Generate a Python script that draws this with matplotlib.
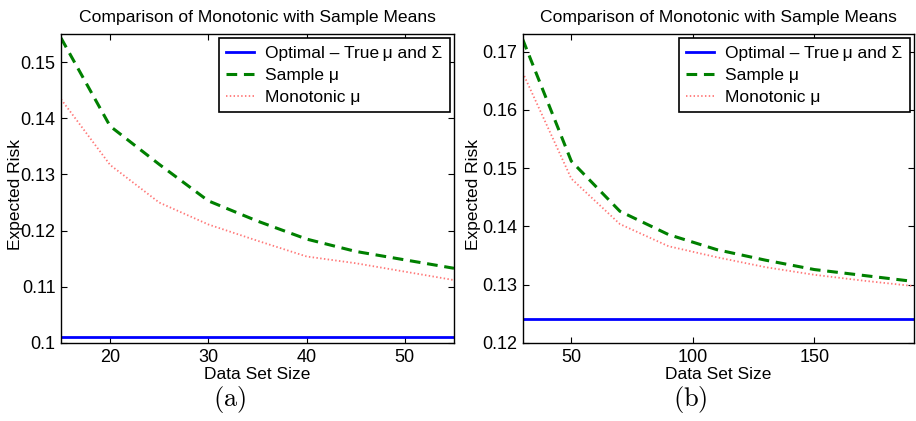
import matplotlib
matplotlib.use("Agg")
import matplotlib.pyplot as plt

plt.rcParams['font.family'] = ['Liberation Sans', 'DejaVu Sans']
plt.rcParams['mathtext.fontset'] = 'cm'

# Panel (a)
size_a = [15, 20, 25, 30, 35, 40, 45, 50, 55]
sample_a = [0.1543, 0.1386, 0.1318, 0.1253, 0.1217, 0.1185, 0.1163, 0.1148, 0.1133]
mono_a = [0.1434, 0.1317, 0.1250, 0.1211, 0.1182, 0.1154, 0.1142, 0.1127, 0.1112]
opt_a = 0.1010

# Panel (b)
size_b = [30, 50, 70, 90, 110, 130, 150, 170, 190]
sample_b = [0.1721, 0.1512, 0.1426, 0.1386, 0.1360, 0.1342, 0.1326, 0.1316, 0.1306]
mono_b = [0.1664, 0.1482, 0.1404, 0.1366, 0.1347, 0.1330, 0.1317, 0.1307, 0.1298]
opt_b = 0.1242

labels = ['Optimal \u2013 True\u2009\u03bc and \u03a3', 'Sample \u03bc', 'Monotonic \u03bc']

fig = plt.figure(figsize=(9.16, 4.21), dpi=100)

def panel(rect, xs, samp, mono, opt, xlim, ylim, xticks, yticks, ylabx, cap, capx):
    ax = fig.add_axes(rect)
    ax.plot([xlim[0], xlim[1]], [opt, opt], color='#0000ff', lw=2.0, label=labels[0])
    ax.plot(xs, samp, color='#008000', lw=2.2, ls=(0, (3.5, 2.2)), label=labels[1])
    ax.plot(xs, mono, color='#ff7878', lw=1.3, ls=(0, (0.8, 1.3)), label=labels[2])
    ax.set_xlim(*xlim)
    ax.set_ylim(*ylim)
    ax.set_xticks(xticks)
    ax.set_yticks(yticks)
    ax.set_yticklabels([('%g' % v) for v in yticks])
    ax.tick_params(direction='in', top=True, right=True, labelsize=13, length=4, width=0.8, pad=4)
    for s in ax.spines.values():
        s.set_linewidth(1.0)
    ax.set_title('Comparison of Monotonic with Sample Means', fontsize=12.6, pad=9)
    ax.set_xlabel('Data Set Size', fontsize=12.5, labelpad=0)
    ax.set_ylabel('Expected Risk', fontsize=12.5)
    ax.yaxis.set_label_coords(ylabx, 0.48)
    ax.xaxis.set_label_coords(0.5, -0.078)
    leg = ax.legend(loc='upper right', fontsize=12.5, frameon=True, fancybox=False,
                    edgecolor='black', framealpha=1, borderaxespad=0.25,
                    handlelength=1.6, handletextpad=0.65, labelspacing=0.4,
                    borderpad=0.42)
    leg.get_frame().set_linewidth(1.2)
    fig.text(capx, 0.052, cap, ha='center', va='center', fontsize=19)
    return ax

panel([0.0666, 0.1853, 0.4290, 0.7338], size_a, sample_a, mono_a, opt_a,
      (15, 55), (0.1, 0.155), [20, 30, 40, 50], [0.10, 0.11, 0.12, 0.13, 0.14, 0.15],
      -0.097, r'$\mathrm{(a)}$', 0.251)
panel([0.5706, 0.1853, 0.4272, 0.7338], size_b, sample_b, mono_b, opt_b,
      (30, 191), (0.12, 0.173), [50, 100, 150], [0.12, 0.13, 0.14, 0.15, 0.16, 0.17],
      -0.107, r'$\mathrm{(b)}$', 0.754)

fig.savefig('out.png', dpi=100)
